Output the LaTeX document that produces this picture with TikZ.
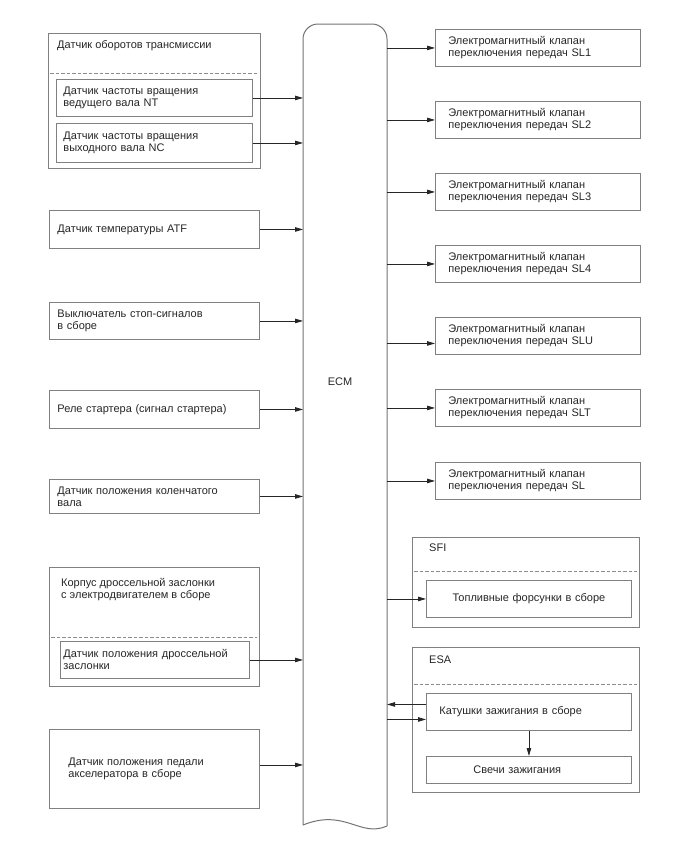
\documentclass[tikz,border=0pt]{standalone}
\usepackage{fontspec}
\setmainfont{Liberation Sans}
\usetikzlibrary{arrows.meta, positioning}

\begin{document}
\begin{tikzpicture}[x=1pt, y=-1pt, >={Triangle[length=8pt,width=4.5pt]},
          every node/.style={font=\fontsize{11}{12}\selectfont, text=black!85},
          box/.style={draw=black!50, line width=0.9pt, anchor=north west,
                      align=left, inner ysep=0pt},
          lbox/.style={box, inner xsep=8pt, text width=194pt},
          rbox/.style={box, inner xsep=13pt, text width=179pt,
                       minimum height=37pt},
          title/.style={anchor=west, align=left, inner sep=0pt},
          grp/.style={draw=black!50, line width=0.9pt},
          sep/.style={draw=black!45, line width=0.9pt,
                      dash pattern=on 3.5pt off 2pt},
          ecmline/.style={draw=black!55, line width=1pt},
          link/.style={->, draw=black!85, line width=0.8pt}]
        \useasboundingbox (0,0) rectangle (688,852);

        % ECM
        \coordinate (ecmw) at (303,0);
        \coordinate (ecme) at (387,0);
        \draw[ecmline, rounded corners=15pt] (303,825) -- (303,24) -- (387,24) -- (387,826);
        \draw[ecmline] (387,826) .. controls (360,838) and (345,808) .. (303,825);
        \node (ecm) at (340,382) {ECM};

        % inputs
        \draw[grp] (48,33) rectangle (260,168);
        \node[title] (spdt) at (57,46) {Датчик оборотов трансмиссии};
        \draw[sep] (50,73) -- (258,73);
        \node[box, inner xsep=7pt, text width=182pt, minimum height=37pt]
              (nt) at (56,79) {Датчик частоты вращения\\ведущего вала NT};
        \node[box, inner xsep=7pt, text width=182pt, minimum height=39pt]
              (nc) at (56,123) {Датчик частоты вращения\\выходного вала NC};
        \node[lbox, minimum height=38pt] (atf) at (49,210) {Датчик температуры ATF\\[3pt]};
        \node[lbox, minimum height=37pt] (stop) at (49,302) {Выключатель стоп-сигналов\\в сборе};
        \node[lbox, minimum height=38pt] (relay) at (49,390) {Реле стартера (сигнал стартера)\\[3pt]};
        \node[lbox, minimum height=34pt] (crank) at (49,479) {Датчик положения коленчатого\\вала};
        \draw[grp] (49,567) rectangle (259,686);
        \node[title] (thrt) at (61,590) {Корпус дроссельной заслонки\\с электродвигателем в сборе};
        \draw[sep] (51,637) -- (257,637);
        \node[box, inner xsep=3pt, text width=183pt, minimum height=37pt]
              (tps) at (60,641) {Датчик положения дроссельной\\заслонки};
        \node[box, inner xsep=19pt, text width=172pt, minimum height=79pt]
              (pedal) at (49,729) {Датчик положения педали\\акселератора в сборе\\[6pt]};

        % outputs
        \node[rbox] (sl1) at (435,29)  {Электромагнитный клапан\\переключения передач SL1};
        \node[rbox] (sl2) at (435,101) {Электромагнитный клапан\\переключения передач SL2};
        \node[rbox] (sl3) at (435,173) {Электромагнитный клапан\\переключения передач SL3};
        \node[rbox] (sl4) at (435,245) {Электромагнитный клапан\\переключения передач SL4};
        \node[rbox] (slu) at (435,317) {Электромагнитный клапан\\переключения передач SLU};
        \node[rbox] (slt) at (435,389) {Электромагнитный клапан\\переключения передач SLT};
        \node[rbox] (sl)  at (435,462) {Электромагнитный клапан\\переключения передач SL};

        \draw[grp] (412,537) rectangle (639,627);
        \node[title] (sfi) at (429,548) {SFI};
        \draw[sep] (414,571) -- (637,571);
        \node[box, align=center, inner xsep=0pt, text width=205pt, minimum height=37pt]
              (inj) at (426,580) {Топливные форсунки в сборе};

        \draw[grp] (412,647) rectangle (639,792);
        \node[title] (esa) at (429,660) {ESA};
        \draw[sep] (414,684) -- (637,684);
        \node[box, inner xsep=13pt, text width=179pt, minimum height=37pt]
              (coil) at (426,693) {Катушки зажигания в сборе};
        \node[box, inner xsep=47pt, text width=111pt, minimum height=27pt]
              (plug) at (426,756) {Свечи зажигания};

        % connections
        \draw[link] (nt.east) -- (nt.east -| ecmw);
        \draw[link] (nc.east) -- (nc.east -| ecmw);
        \draw[link] (atf.east) -- (atf.east -| ecmw);
        \draw[link] (stop.east) -- (stop.east -| ecmw);
        \draw[link] (relay.east) -- (relay.east -| ecmw);
        \draw[link] (crank.east) -- (crank.east -| ecmw);
        \draw[link] (tps.east) -- (tps.east -| ecmw);
        \draw[link] ([yshift=4pt]pedal.east) -- ([yshift=4pt]pedal.east -| ecmw);
        \draw[link] (sl1.west -| ecme) -- (sl1.west);
        \draw[link] (sl2.west -| ecme) -- (sl2.west);
        \draw[link] (sl3.west -| ecme) -- (sl3.west);
        \draw[link] (sl4.west -| ecme) -- (sl4.west);
        \draw[link] ([yshift=-7.5pt]slu.west -| ecme) -- ([yshift=-7.5pt]slu.west);
        \draw[link] (slt.west -| ecme) -- (slt.west);
        \draw[link] (sl.west -| ecme) -- (sl.west);
        \draw[link] (inj.west -| ecme) -- (inj.west);
        \draw[link] ([yshift=7.5pt]coil.west) -- ([yshift=7.5pt]coil.west -| ecme);
        \draw[link] ([yshift=-7.5pt]coil.west -| ecme) -- ([yshift=-7.5pt]coil.west);
        \draw[link] (coil.south) -- (plug.north);
      \end{tikzpicture}
\end{document}
